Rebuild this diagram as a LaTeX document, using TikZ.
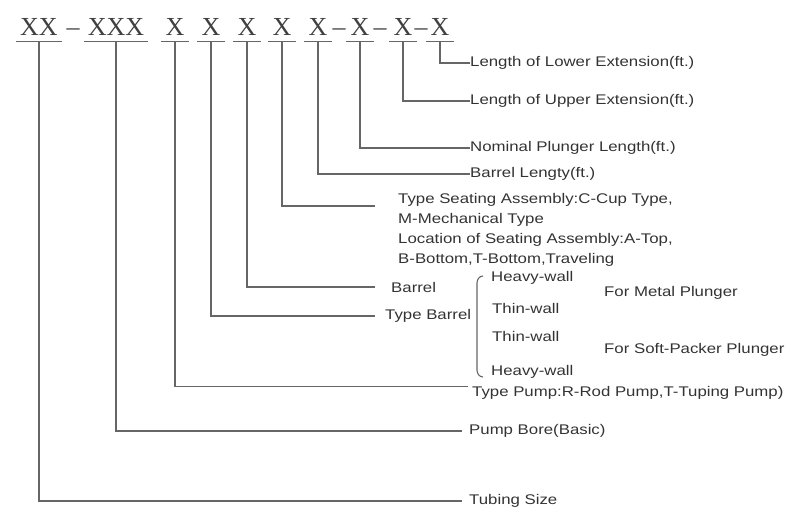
\documentclass[tikz,border=0pt]{standalone}
\usepackage{fontspec}
\setmainfont{Liberation Serif}
\newfontfamily\lblfont[FakeStretch=1.2]{Liberation Sans}
\usetikzlibrary{positioning}

\begin{document}
\begin{tikzpicture}[
  x=1pt, y=-1pt,
  code/.style={font=\fontsize{26}{26}\selectfont, text=black!75, anchor=base, inner xsep=4pt, inner ysep=6pt},
  dsh/.style={font=\fontsize{26}{26}\selectfont, text=black!75, anchor=base, inner sep=0pt},
  lbl/.style={font=\lblfont\fontsize{14}{16}\selectfont, text=black!80, anchor=west, inner sep=0pt},
  conn/.style={draw=black!60, line width=1.4pt}
]
  \useasboundingbox (0,0) rectangle (787,512);

  % designation code
  \node[code] (g1) at (39,35) {XX};
  \node[dsh] (d1) at (73,35) {--};
  \node[code] (g2) at (116,35) {XXX};
  \node[code] (g3) at (175,35) {X};
  \node[code] (g4) at (211,35) {X};
  \node[code] (g5) at (247,35) {X};
  \node[code] (g6) at (282,35) {X};
  \node[code] (g7) at (318,35) {X};
  \node[dsh] (d2) at (339,35) {--};
  \node[code] (g8) at (360,35) {X};
  \node[dsh] (d3) at (380,35) {--};
  \node[code] (g9) at (403,35) {X};
  \node[dsh] (d4) at (421,35) {--};
  \node[code] (g10) at (440,35) {X};
  \foreach \g in {g1,g2,g3,g4,g5,g6,g7,g8,g9,g10}
    \draw[conn] (\g.south west) -- (\g.south east);

  % meanings
  \node[lbl] (lowext) at (470,63) {Length of Lower Extension(ft.)};
  \node[lbl] (upext) at (470,101) {Length of Upper Extension(ft.)};
  \node[lbl] (plunger) at (470,148) {Nominal Plunger Length(ft.)};
  \node[lbl] (barlen) at (470,174) {Barrel Lengty(ft.)};
  \node[lbl] (seat1) at (398,200) {Type Seating Assembly:C-Cup Type,};
  \node[lbl] (seat2) at (398,220) {M-Mechanical Type};
  \node[lbl] (seat3) at (398,240) {Location of Seating Assembly:A-Top,};
  \node[lbl] (seat4) at (398,260) {B-Bottom,T-Bottom,Traveling};
  \node[lbl] (barrel) at (391,287) {Barrel};
  \node[lbl] (typebar) at (385,316) {Type Barrel};
  \node[lbl] (hw1) at (491,278) {Heavy-wall};
  \node[lbl] (tw1) at (492,308) {Thin-wall};
  \node[lbl] (tw2) at (492,336) {Thin-wall};
  \node[lbl] (hw2) at (491,372) {Heavy-wall};
  \node[lbl] (metal) at (604,293) {For Metal Plunger};
  \node[lbl] (soft) at (604,350) {For Soft-Packer Plunger};
  \node[lbl] (pump) at (472,393) {Type Pump:R-Rod Pump,T-Tuping Pump)};
  \node[lbl] (bore) at (469,431) {Pump Bore(Basic)};
  \node[lbl] (tubing) at (469,501) {Tubing Size};

  \draw[conn] (g10.south) |- (lowext.west);
  \draw[conn] (g9.south) |- (upext.west);
  \draw[conn] (g8.south) |- (plunger.west);
  \draw[conn] (g7.south) |- (barlen.west);
  \draw[conn] (g6.south) |- ([xshift=-23pt,yshift=-6pt]seat1.west);
  \draw[conn] (g5.south) |- ([xshift=-16pt]barrel.west);
  \draw[conn] (g4.south) |- ([xshift=-10pt]typebar.west);
  \draw[conn] (g3.south) |- ([xshift=-4pt]pump.north west);
  \draw[conn] (g2.south) |- ([xshift=-7pt]bore.west);
  \draw[conn] (g1.south) |- ([xshift=-7pt]tubing.west);

  % bracket over the wall types
  \draw[conn, line width=1.1pt] ([xshift=-8pt,yshift=2pt]hw1.west) to[out=180,in=90] ++(-6,7)
    -- ++(0,87) to[out=-90,in=180] ++(6,7);
\end{tikzpicture}
\end{document}
